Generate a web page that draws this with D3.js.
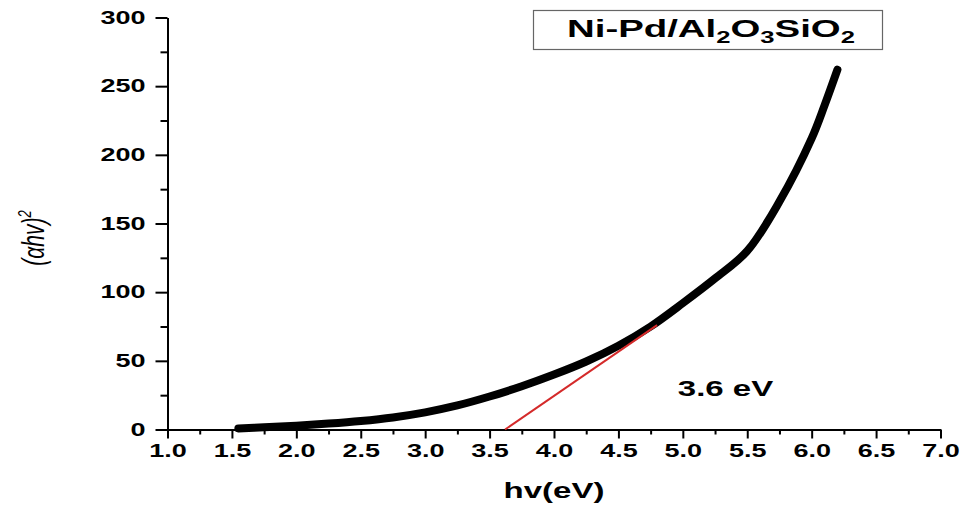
<!DOCTYPE html>
<html>
<head>
<meta charset="utf-8">
<script src="https://cdn.jsdelivr.net/npm/d3@7"></script>
<style>
  body { margin: 0; background: #fff; }
  text { font-family: "Liberation Sans", Arial, sans-serif; }
</style>
</head>
<body>
<svg id="chart" width="962" height="506"></svg>
<script>
// Tauc plot data
const hv = [1.55, 1.75, 2.0, 2.25, 2.5, 2.75, 3.0, 3.25, 3.5, 3.75, 4.0, 4.25, 4.5, 4.75, 5.0, 5.25, 5.5, 5.75, 6.0, 6.1, 6.2];
const ahv2 = [0.8, 1.6, 2.8, 4.3, 6.2, 8.8, 12.5, 17.5, 24, 31.5, 40, 49.5, 61, 75, 92, 110, 130, 166, 212, 236, 262];

// tangent line used to read the band gap
const fitX = [3.62, 4.8];
const fitY = [0, 76];

const xTicks = [1.0, 1.5, 2.0, 2.5, 3.0, 3.5, 4.0, 4.5, 5.0, 5.5, 6.0, 6.5, 7.0];
const yTicks = [0, 50, 100, 150, 200, 250, 300];
const xMinor = [1.25, 1.75, 2.25, 2.75, 3.25, 3.75, 4.25, 4.75, 5.25, 5.75, 6.25, 6.75];
const yMinor = [25, 75, 125, 175, 225, 275];

const legendLabel = ['Ni-Pd/Al', '2', 'O', '3', 'SiO', '2'];
const gapLabel = '3.6 eV';

// the original picture is stretched sideways, so text is too
const sx = 1.5;

const svg = d3.select('#chart');

const x = d3.scaleLinear().domain([1, 7]).range([167.5, 940.5]);
const y = d3.scaleLinear().domain([0, 300]).range([429.5, 17.5]);

// Minor ticks first
svg.append('g')
  .attr('transform', `translate(0,${y(0)})`)
  .call(d3.axisBottom(x).tickValues(xMinor).tickSize(5).tickFormat(''))
  .call(g => g.select('.domain').remove())
  .call(g => g.selectAll('line').attr('stroke-width', 2));

svg.append('g')
  .attr('transform', `translate(${x(1)},0)`)
  .call(d3.axisLeft(y).tickValues(yMinor).tickSize(7).tickFormat(''))
  .call(g => g.select('.domain').remove())
  .call(g => g.selectAll('line').attr('stroke-width', 2));

// Major axes
const xAxis = svg.append('g')
  .attr('transform', `translate(0,${y(0)})`)
  .call(d3.axisBottom(x).tickValues(xTicks).tickSize(9).tickSizeOuter(0).tickFormat(d3.format('.1f')));

const yAxis = svg.append('g')
  .attr('transform', `translate(${x(1)},0)`)
  .call(d3.axisLeft(y).tickValues(yTicks).tickSize(12).tickSizeOuter(0));

[xAxis, yAxis].forEach(g => {
  g.select('.domain').attr('stroke-width', 2);
  g.selectAll('line').attr('stroke-width', 2);
  g.selectAll('text')
    .attr('font-size', 18)
    .attr('font-weight', 'bold')
    .attr('fill', '#000');
});

xAxis.selectAll('text')
  .attr('y', 0).attr('dy', '0.71em')
  .attr('transform', `translate(0,15) scale(${sx},1)`);

yAxis.selectAll('text')
  .attr('x', 0)
  .attr('transform', `translate(-22,0) scale(${sx},1)`);

// Curve
const line = d3.line()
  .x(d => x(d[0]))
  .y(d => y(d[1]))
  .curve(d3.curveCatmullRom.alpha(0.5));

svg.append('path')
  .datum(hv.map((v, i) => [v, ahv2[i]]))
  .attr('d', line)
  .attr('fill', 'none')
  .attr('stroke', '#000')
  .attr('stroke-width', 8)
  .attr('stroke-linecap', 'round')
  .attr('stroke-linejoin', 'round');

// Red tangent line
svg.append('line')
  .attr('x1', x(fitX[0])).attr('y1', y(fitY[0]))
  .attr('x2', x(fitX[1])).attr('y2', y(fitY[1]))
  .attr('stroke', '#d42a2a')
  .attr('stroke-width', 2);

// Band gap label
svg.append('text')
  .attr('transform', `translate(${x(5.0) - 5},396) scale(${sx},1)`)
  .attr('font-size', 22)
  .attr('font-weight', 'bold')
  .text(gapLabel);

// Axis titles
svg.append('text')
  .attr('transform', `translate(${x(4.0)},498) scale(${sx},1)`)
  .attr('text-anchor', 'middle')
  .attr('font-size', 22)
  .attr('font-weight', 'bold')
  .text('hv(eV)');

const yTitle = svg.append('text')
  .attr('transform', 'translate(44,238) rotate(-90) scale(1,1.45)')
  .attr('text-anchor', 'middle')
  .attr('font-size', 21)
  .attr('font-style', 'italic');
yTitle.append('tspan').text('(\u03b1hv)');
yTitle.append('tspan').attr('font-size', 13).attr('dy', -9).text('2');

// Legend box
svg.append('rect')
  .attr('x', 533.5).attr('y', 10.5)
  .attr('width', 349).attr('height', 39)
  .attr('fill', '#fff')
  .attr('stroke', '#666')
  .attr('stroke-width', 1.2);

const leg = svg.append('text')
  .attr('transform', `translate(567,37) scale(1.6,1)`)
  .attr('font-size', 24)
  .attr('font-weight', 'bold');
legendLabel.forEach((s, i) => {
  const sub = i % 2 === 1;
  leg.append('tspan')
    .attr('font-size', sub ? 16 : 24)
    .attr('dy', sub ? 6 : (i === 0 ? 0 : -6))
    .text(s);
});
</script>
</body>
</html>
